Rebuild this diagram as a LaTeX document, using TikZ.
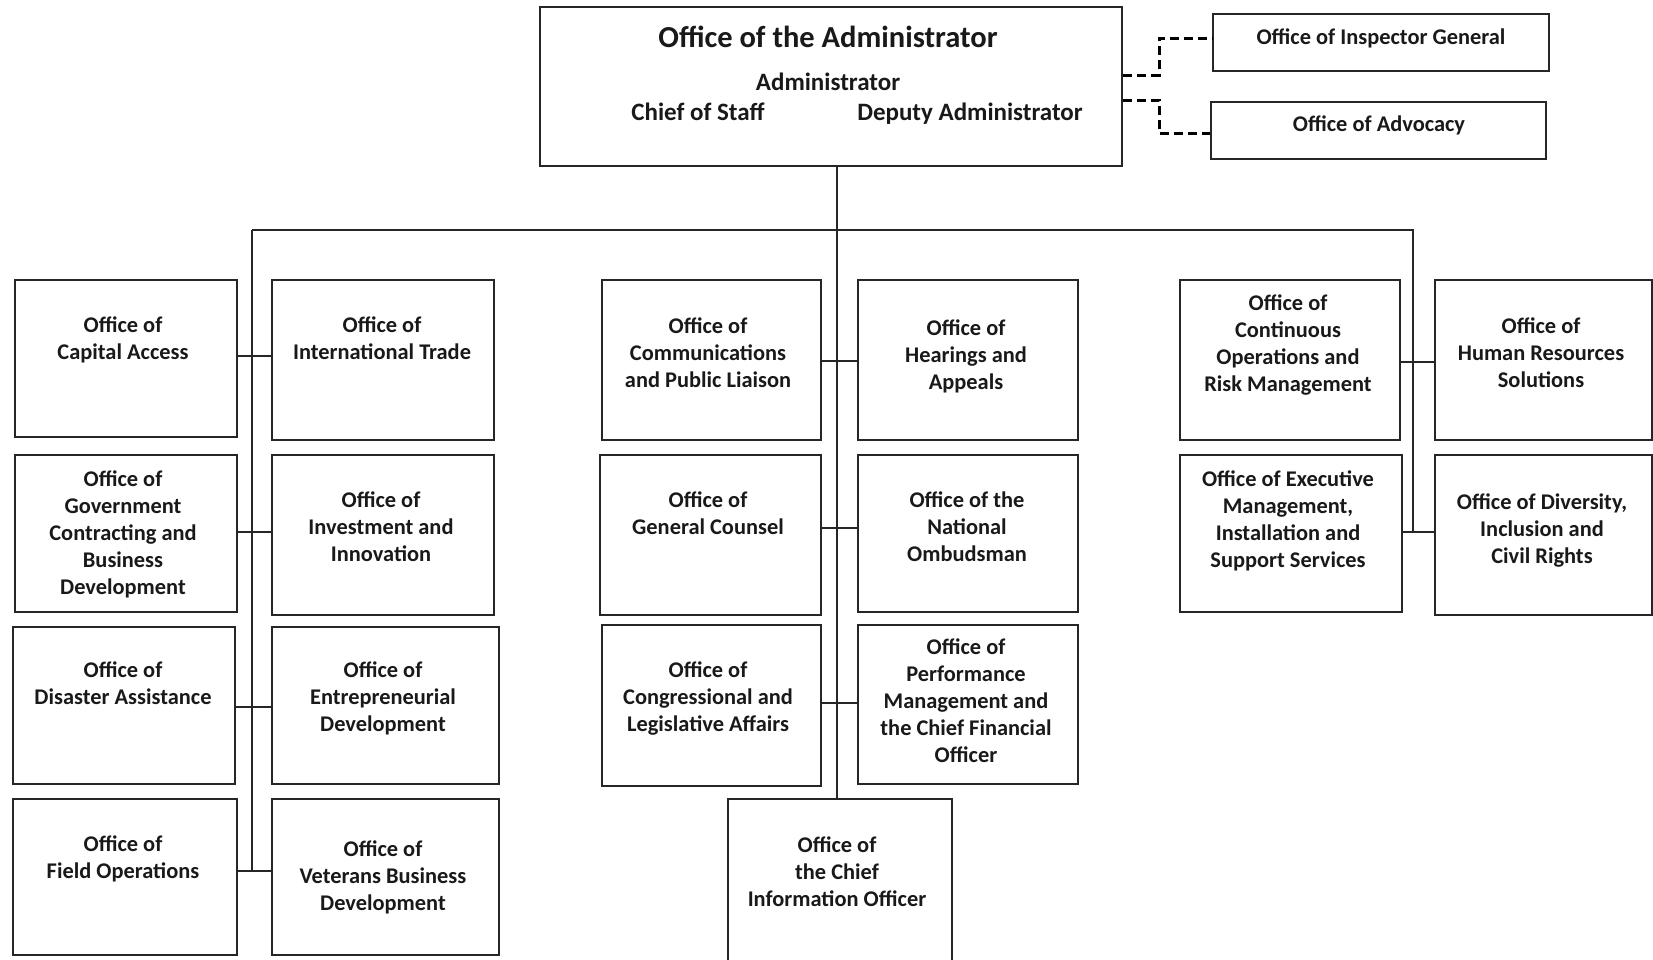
\documentclass[tikz,border=0pt]{standalone}
\usepackage{fontspec}
\setmainfont{Carlito}
\begin{document}
\begin{tikzpicture}[x=1pt,y=-1pt,
  box/.style={draw=black!85, line width=1.8pt, fill=none, inner sep=0pt, rectangle},
  txt/.style={font=\bfseries\fontsize{22.4}{27}\selectfont, align=center, anchor=north, inner sep=0pt, text=black!90},
  sub/.style={font=\bfseries\fontsize{25}{28}\selectfont, anchor=north, inner sep=0pt, text=black!90},
  ttl/.style={font=\bfseries\fontsize{30.5}{34}\selectfont, anchor=north, inner sep=0pt, text=black!90},
  conn/.style={draw=black!85, line width=1.6pt},
  dsh/.style={draw=black, line width=3pt, dash pattern=on 9pt off 5pt}]
\newcommand{\officebox}[5]{\node[box, minimum width={#4pt-#2pt}, minimum height={#5pt-#3pt}, anchor=north west] (#1) at (#2,#3) {};}
\useasboundingbox (0,0) rectangle (1653,959);
\fill[white] (0,0) rectangle (1653,959);
% boxes
\officebox{adm}{539}{6}{1121}{165}
\officebox{ig}{1212}{13}{1548}{70}
\officebox{adv}{1210}{101}{1545}{158}
\officebox{cap}{14}{279}{236}{436}
\officebox{intl}{271}{279}{493}{439}
\officebox{gov}{14}{454}{236}{611}
\officebox{inv}{271}{454}{493}{614}
\officebox{dis}{12}{626}{234}{783}
\officebox{ent}{271}{626}{498}{783}
\officebox{fld}{12}{798}{236}{954}
\officebox{vet}{271}{798}{498}{954}
\officebox{com}{601}{279}{820}{439}
\officebox{hea}{857}{279}{1077}{439}
\officebox{gc}{599}{454}{820}{614}
\officebox{omb}{857}{454}{1077}{611}
\officebox{cng}{601}{624}{820}{785}
\officebox{prf}{857}{624}{1077}{783}
\officebox{cio}{727}{798}{951}{963}
\officebox{cnt}{1179}{279}{1399}{439}
\officebox{hr}{1434}{279}{1651}{439}
\officebox{exe}{1179}{454}{1401}{611}
\officebox{div}{1434}{454}{1651}{614}
% texts
\node[ttl] (t-adm) at (828,25.5) {Office of the Administrator};
\node[sub] (t-admr) at (828,73) {Administrator};
\node[sub] (t-cos) at (698,103) {Chief of Staff};
\node[sub] (t-dep) at (970,103) {Deputy Administrator};
\node[txt] (t-ig) at (1381,29) {Office of Inspector General};
\node[txt] (t-adv) at (1379,116) {Office of Advocacy};
\node[txt] (t-cap) at (123,317) {Office of\\Capital Access};
\node[txt] (t-intl) at (382,317) {Office of\\International Trade};
\node[txt] (t-gov) at (123,471) {Office of\\Government\\Contracting and\\Business\\Development};
\node[txt] (t-inv) at (381,492) {Office of\\Investment and\\Innovation};
\node[txt] (t-dis) at (123,662) {Office of\\Disaster Assistance};
\node[txt] (t-ent) at (383,662) {Office of\\Entrepreneurial\\Development};
\node[txt] (t-fld) at (123,836) {Office of\\Field Operations};
\node[txt] (t-vet) at (383,841) {Office of\\Veterans Business\\Development};
\node[txt] (t-com) at (708,318) {Office of\\Communications\\and Public Liaison};
\node[txt] (t-hea) at (966,320) {Office of\\Hearings and\\Appeals};
\node[txt] (t-gc) at (708,492) {Office of\\General Counsel};
\node[txt] (t-omb) at (967,492) {Office of the\\National\\Ombudsman};
\node[txt] (t-cng) at (708,662) {Office of\\Congressional and\\Legislative Affairs};
\node[txt] (t-prf) at (966,639) {Office of\\Performance\\Management and\\the Chief Financial\\Officer};
\node[txt] (t-cio) at (837,837) {Office of\\the Chief\\Information Officer};
\node[txt] (t-cnt) at (1288,295) {Office of\\Continuous\\Operations and\\Risk Management};
\node[txt] (t-hr) at (1541,318) {Office of\\Human Resources\\Solutions};
\node[txt] (t-exe) at (1288,471) {Office of Executive\\Management,\\Installation and\\Support Services};
\node[txt] (t-div) at (1542,494) {Office of Diversity,\\Inclusion and\\Civil Rights};
% bus
\coordinate (bus-c) at (837,230);
\coordinate (bus-l) at (252,230);
\coordinate (bus-r) at (1413,230);
\draw[conn] (adm.south -| bus-c) -- (cio.north -| bus-c);
\draw[conn] (bus-l) -- (bus-r) -- (bus-r |- 0,532);
\draw[conn] (bus-l) -- (bus-l |- 0,871);
% branches
\draw[conn] (cap.east |- 0,356) -- (intl.west |- 0,356);
\draw[conn] (gov.east |- 0,532) -- (inv.west |- 0,532);
\draw[conn] (dis.east |- 0,707) -- (ent.west |- 0,707);
\draw[conn] (fld.east |- 0,871) -- (vet.west |- 0,871);
\draw[conn] (com.east |- 0,361) -- (hea.west |- 0,361);
\draw[conn] (gc.east |- 0,528) -- (omb.west |- 0,528);
\draw[conn] (cng.east |- 0,703) -- (prf.west |- 0,703);
\draw[conn] (cnt.east |- 0,362) -- (hr.west |- 0,362);
\draw[conn] (exe.east |- 0,532) -- (div.west |- 0,532);
% dashed
\coordinate (dj1) at (1159,38);
\coordinate (dj2) at (1159,133);
\draw[dsh] (adm.east |- 0,75) -| (dj1) -- (ig.west |- dj1);
\draw[dsh] (adm.east |- 0,100) -| (dj2) -- (adv.west |- dj2);
\end{tikzpicture}
\end{document}
